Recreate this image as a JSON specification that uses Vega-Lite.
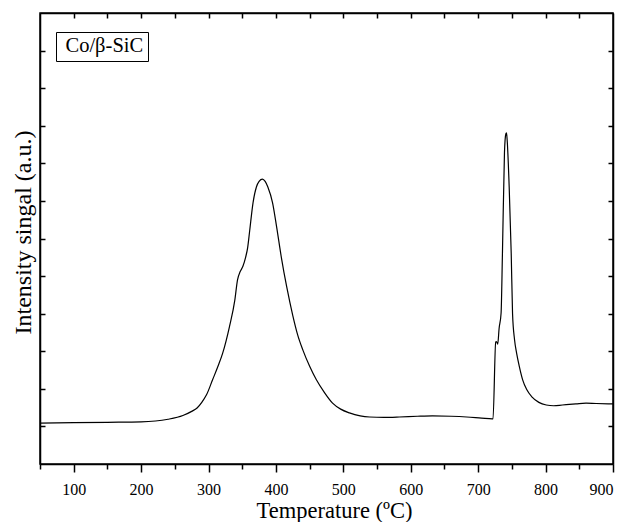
{
  "$schema": "https://vega.github.io/schema/vega-lite/v6.json",
  "width": 573,
  "height": 451,
  "autosize": {"type": "none"},
  "padding": {"left": 40, "top": 13, "right": 17, "bottom": 58},
  "background": "white",
  "config": {
    "view": {"stroke": "black", "strokeWidth": 1.5},
    "axis": {
      "labelFont": "Liberation Serif",
      "titleFont": "Liberation Serif",
      "labelFontSize": 16,
      "titleFontSize": 22.5,
      "titleFontWeight": "normal",
      "labelColor": "black",
      "titleColor": "black",
      "domainColor": "black",
      "domainWidth": 1.5,
      "tickColor": "black",
      "tickWidth": 1.5,
      "grid": false
    },
    "legend": {"labelFont": "Liberation Serif", "labelFontSize": 20.5, "labelColor": "black"}
  },
  "data": {
    "values": [
      {"t": 50, "v": 1.09}, {"t": 100, "v": 1.10}, {"t": 150, "v": 1.11}, {"t": 200, "v": 1.12},
      {"t": 240, "v": 1.19}, {"t": 262, "v": 1.29}, {"t": 275, "v": 1.40}, {"t": 283, "v": 1.49},
      {"t": 290, "v": 1.64}, {"t": 297, "v": 1.84}, {"t": 306, "v": 2.24}, {"t": 314, "v": 2.60},
      {"t": 321, "v": 2.95}, {"t": 331, "v": 3.65}, {"t": 339, "v": 4.36}, {"t": 343, "v": 4.90},
      {"t": 347, "v": 5.12}, {"t": 351, "v": 5.26}, {"t": 355, "v": 5.50}, {"t": 358, "v": 5.75},
      {"t": 361, "v": 6.20}, {"t": 366, "v": 6.95}, {"t": 371, "v": 7.37}, {"t": 375, "v": 7.52},
      {"t": 380, "v": 7.58}, {"t": 384, "v": 7.52}, {"t": 388, "v": 7.37}, {"t": 395, "v": 6.95},
      {"t": 401, "v": 6.31}, {"t": 408, "v": 5.50}, {"t": 416, "v": 4.71}, {"t": 425, "v": 3.95},
      {"t": 432, "v": 3.45}, {"t": 440, "v": 3.03}, {"t": 450, "v": 2.60}, {"t": 460, "v": 2.24},
      {"t": 472, "v": 1.90}, {"t": 484, "v": 1.62}, {"t": 496, "v": 1.46}, {"t": 509, "v": 1.36},
      {"t": 525, "v": 1.28}, {"t": 539, "v": 1.25}, {"t": 560, "v": 1.24}, {"t": 583, "v": 1.25},
      {"t": 610, "v": 1.27}, {"t": 632, "v": 1.28}, {"t": 660, "v": 1.27}, {"t": 683, "v": 1.25},
      {"t": 705, "v": 1.22}, {"t": 721, "v": 1.20}, {"t": 722, "v": 1.20}, {"t": 726, "v": 3.25},
      {"t": 727, "v": 3.26}, {"t": 729, "v": 3.19}, {"t": 731, "v": 3.6}, {"t": 734, "v": 4.02},
      {"t": 736, "v": 5.61}, {"t": 739, "v": 8.28}, {"t": 741, "v": 8.78}, {"t": 742, "v": 8.81},
      {"t": 743, "v": 8.62}, {"t": 746, "v": 7.37}, {"t": 749, "v": 5.61}, {"t": 751, "v": 4.0},
      {"t": 754, "v": 3.3}, {"t": 757, "v": 2.95}, {"t": 761, "v": 2.6}, {"t": 766, "v": 2.24},
      {"t": 772, "v": 1.98}, {"t": 780, "v": 1.78}, {"t": 790, "v": 1.64}, {"t": 801, "v": 1.57},
      {"t": 812, "v": 1.55}, {"t": 825, "v": 1.57}, {"t": 845, "v": 1.60}, {"t": 860, "v": 1.62},
      {"t": 875, "v": 1.61}, {"t": 900, "v": 1.60}
    ]
  },
  "layer": [
    {
      "mark": {"type": "line", "strokeWidth": 1.2, "interpolate": "monotone"},
      "encoding": {
        "x": {"field": "t", "type": "quantitative", "scale": {"domain": [50, 900], "nice": false},
          "axis": {"orient": "bottom", "values": [100, 200, 300, 400, 500, 600, 700, 800, 900], "tickSize": 8, "labelPadding": 9, "title": "Temperature (ºC)", "titlePadding": 2, "titleX": 294}},
        "y": {"field": "v", "type": "quantitative", "scale": {"domain": [0, 12], "nice": false},
          "axis": {"orient": "left", "values": [1, 2, 3, 4, 5, 6, 7, 8, 9, 10, 11], "tickSize": -5, "labels": false, "title": "Intensity singal (a.u.)", "titlePadding": 4, "titleY": 219, "titleFontSize": 24}},
        "color": {"datum": "Co/β-SiC", "type": "nominal", "scale": {"range": ["black"]},
          "legend": {"title": null, "orient": "none", "legendX": 16, "legendY": 19, "strokeColor": "black", "padding": 4, "symbolSize": 0, "symbolStrokeWidth": 0, "labelOffset": -15, "symbolOpacity": 0}}
      }
    },
    {
      "mark": {"type": "line", "strokeOpacity": 0},
      "encoding": {
        "x": {"field": "t", "type": "quantitative", "scale": {"domain": [50, 900], "nice": false},
          "axis": {"orient": "top", "values": [100, 150, 200, 250, 300, 350, 400, 450, 500, 550, 600, 650, 700, 750, 800, 850], "tickSize": -5, "labels": false, "title": null}},
        "y": {"field": "v", "type": "quantitative", "scale": {"domain": [0, 12], "nice": false},
          "axis": {"orient": "right", "values": [1, 2, 3, 4, 5, 6, 7, 8, 9, 10, 11], "tickSize": -5, "labels": false, "title": null}}
      }
    },
    {
      "mark": {"type": "line", "strokeOpacity": 0},
      "encoding": {
        "x": {"field": "t", "type": "quantitative", "scale": {"domain": [50, 900], "nice": false},
          "axis": {"orient": "bottom", "values": [50, 150, 250, 350, 450, 550, 650, 750, 850], "tickSize": 5, "labels": false, "title": null, "domain": false}},
        "y": {"field": "v", "type": "quantitative", "scale": {"domain": [0, 12], "nice": false}, "axis": null}
      }
    }
  ],
  "resolve": {"axis": {"x": "independent", "y": "independent"}}
}
